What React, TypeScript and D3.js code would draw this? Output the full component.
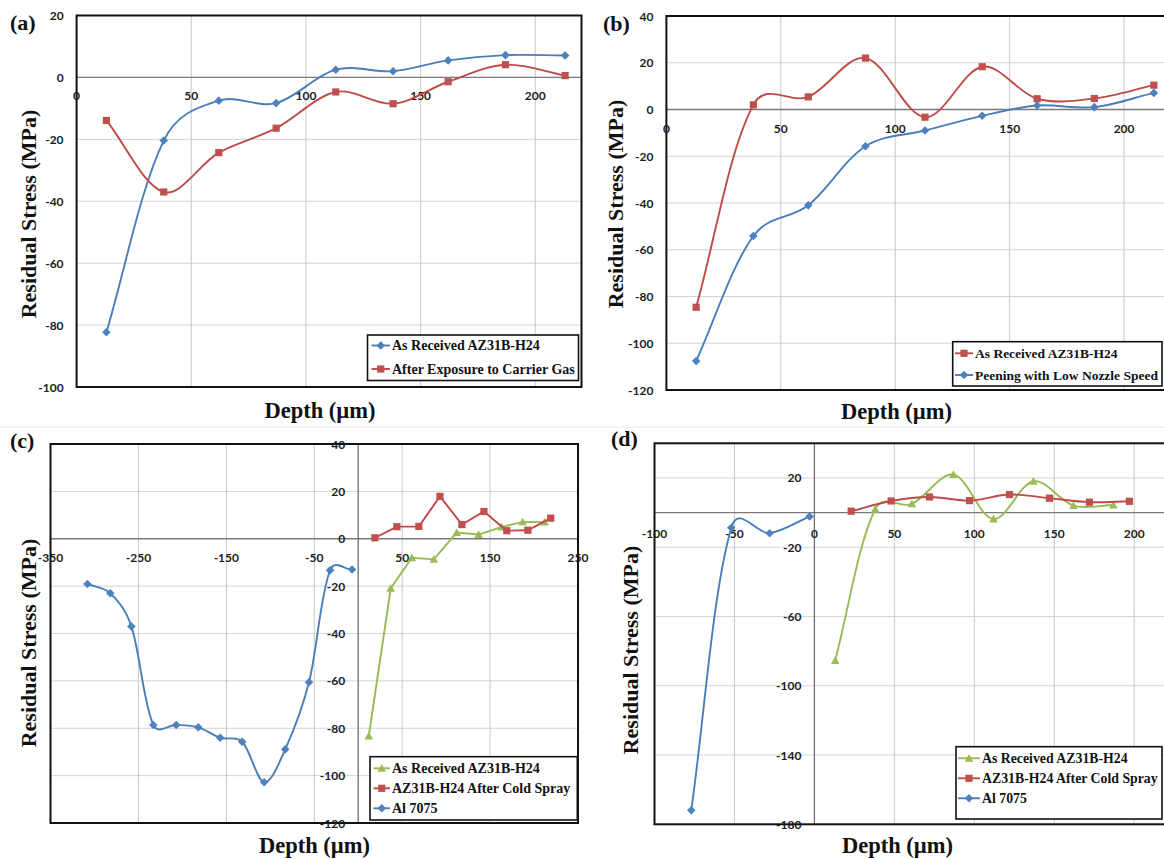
import React from 'react';
import * as d3 from 'd3';

// ---------- data ----------
// (a) As received vs. after exposure to carrier gas
const depthA = [13, 38, 62, 87, 113, 138, 162, 187, 213];
const aAsReceived = [-82.3, -20.4, -7.5, -8.3, 2.5, 2.0, 5.5, 7.2, 7.1];
const aCarrierGas = [-13.9, -37.0, -24.3, -16.4, -4.7, -8.5, -1.4, 4.1, 0.6];

// (b) As received vs. peening with low nozzle speed
const depthB = [13, 38, 62, 87, 113, 138, 162, 187, 213];
const bAsReceived = [-84.6, 2.0, 5.4, 22.0, -3.3, 18.3, 4.6, 4.7, 10.4];
const bPeening = [-107.6, -54.1, -41.0, -15.7, -9.0, -2.7, 1.7, 1.0, 7.1];

// (c) Cold spray with Al 7075 coating (coating depth negative)
const depthCAl = [-308, -282, -258, -233, -207, -182, -157, -132, -107, -83, -56, -32, -7];
const cAl7075 = [-19.1, -23.0, -37.0, -78.6, -78.6, -79.6, -84.0, -85.7, -102.8, -88.9, -60.6, -13.3, -13.0];
const depthCReceived = [12, 37, 61, 86, 112, 137, 163, 187, 212];
const cAsReceived = [-83.3, -20.9, -8.0, -8.7, 2.6, 1.8, 4.9, 7.1, 7.0];
const depthCSpray = [19, 44, 69, 93, 118, 143, 169, 193, 219];
const cAfterSpray = [0.4, 5.1, 5.2, 17.9, 6.0, 11.5, 3.4, 3.6, 8.7];

// (d) Cold spray, second condition
const depthDAl = [-77, -52, -28, -3];
const dAl7075 = [-171.9, -8.8, -11.9, -2.3];
const depthDReceived = [13, 38, 61, 87, 112, 137, 162, 187];
const dAsReceived = [-85.4, 1.9, 5.0, 21.9, -3.8, 18.1, 4.0, 4.4];
const depthDSpray = [23, 48, 72, 97, 122, 147, 172, 197];
const dAfterSpray = [0.8, 6.7, 9.0, 6.9, 10.4, 8.3, 6.0, 6.5];

// axis ticks
const ticksAx = [0, 50, 100, 150, 200];
const ticksAy = [20, 0, -20, -40, -60, -80, -100];
const ticksBx = [0, 50, 100, 150, 200];
const ticksBy = [40, 20, 0, -20, -40, -60, -80, -100, -120];
const ticksCx = [-350, -250, -150, -50, 50, 150, 250];
const ticksCy = [40, 20, 0, -20, -40, -60, -80, -100, -120];
const ticksDx = [-100, -50, 0, 50, 100, 150, 200];
const ticksDy = [20, -20, -60, -100, -140, -180];

// ---------- styling ----------
const BLUE = '#4A7EBB';
const BLUE_M = '#4F81BD';
const RED = '#BE4B48';
const RED_M = '#C0504D';
const GREEN = '#98B954';
const GREEN_M = '#9BBB59';
const SERIF = '"Liberation Serif", "Times New Roman", serif';
const TICKFONT = 'Lato, "Open Sans", "Liberation Sans", sans-serif';

// Spreadsheet-style smoothed line: cubic Bézier segments whose tangents
// follow the neighbouring points, weighted by (square-rooted) chord lengths
// so short segments next to long ones do not balloon.
class SmoothCurve {
  _context: any;
  _pts: [number, number][] = [];
  _line = NaN;
  constructor(context: any) {
    this._context = context;
  }
  areaStart() {
    this._line = 0;
  }
  areaEnd() {
    this._line = NaN;
  }
  lineStart() {
    this._pts = [];
  }
  point(x: number, y: number) {
    this._pts.push([+x, +y]);
  }
  lineEnd() {
    const p = this._pts;
    const c = this._context;
    const n = p.length;
    if (!n) return;
    c.moveTo(p[0][0], p[0][1]);
    if (n === 1) return;
    const dist = (a: [number, number], b: [number, number]) => Math.hypot(b[0] - a[0], b[1] - a[1]);
    const w = (a: number, b: number) => {
      const s = Math.sqrt(a) + Math.sqrt(b);
      return s > 0 ? Math.sqrt(b) / s : 0;
    };
    for (let i = 0; i < n - 1; i++) {
      const p0 = p[i - 1] || p[i];
      const p1 = p[i];
      const p2 = p[i + 1];
      const p3 = p[i + 2] || p[i + 1];
      const d01 = dist(p0, p1);
      const d12 = dist(p1, p2);
      const d23 = dist(p2, p3);
      const f1 = (i === 0 ? 1 : 2 * w(d01, d12)) / 6;
      const f2 = (i === n - 2 ? 1 : 2 * w(d23, d12)) / 6;
      const t1x = i === 0 ? (p2[0] - p1[0]) * 2 : p2[0] - p0[0];
      const t1y = i === 0 ? (p2[1] - p1[1]) * 2 : p2[1] - p0[1];
      const t2x = i === n - 2 ? (p2[0] - p1[0]) * 2 : p3[0] - p1[0];
      const t2y = i === n - 2 ? (p2[1] - p1[1]) * 2 : p3[1] - p1[1];
      c.bezierCurveTo(p1[0] + t1x * f1, p1[1] + t1y * f1, p2[0] - t2x * f2, p2[1] - t2y * f2, p2[0], p2[1]);
    }
  }
}
const curveSmooth = (context: any) => new SmoothCurve(context);

type Marker = 'diamond' | 'square' | 'triangle';
type Series = {
  name: string;
  xs: number[];
  ys: number[];
  color: string;
  markColor: string;
  marker: Marker;
  smooth: boolean;
};

function markerShape(kind: Marker, cx: number, cy: number, color: string, key?: any) {
  if (kind === 'square') {
    return <rect key={key} x={cx - 3.6} y={cy - 3.6} width={7.2} height={7.2} fill={color} />;
  }
  if (kind === 'diamond') {
    const s = 4.3;
    return (
      <path key={key} d={`M${cx},${cy - s}L${cx + s},${cy}L${cx},${cy + s}L${cx - s},${cy}Z`} fill={color} />
    );
  }
  const s = 4.3;
  return (
    <path key={key} d={`M${cx},${cy - s}L${cx + s},${cy + s * 0.8}L${cx - s},${cy + s * 0.8}Z`} fill={color} />
  );
}

type PanelCfg = {
  id: string;
  tag: string;
  frame: { left: number; top: number; right: number; bottom: number };
  xDomain: [number, number];
  xRange: [number, number];
  yDomain: [number, number];
  yRange: [number, number];
  xTicks: number[];
  yTicks: number[];
  yAxisAtZero: boolean;
  xLabelGap: number;
  tagPos: [number, number];
  yTitlePos: [number, number];
  xTitlePos: [number, number];
  legend: {
    x: number;
    y: number;
    w: number;
    h: number;
    rows: number[];
    sample: [number, number];
    textX: number;
    fontSize: number;
  };
  series: Series[];
};

function Panel({ cfg }: { cfg: PanelCfg }) {
  const x = d3.scaleLinear().domain(cfg.xDomain).range(cfg.xRange);
  const y = d3.scaleLinear().domain(cfg.yDomain).range(cfg.yRange);
  const f = cfg.frame;
  const clipId = `clip-${cfg.id}`;
  const zeroY = y(0);
  const zeroX = x(0);

  const lineFor = (s: Series) => {
    const gen = d3
      .line<number>()
      .x((_, i) => x(s.xs[i]))
      .y((v) => y(v))
      .curve(s.smooth ? (curveSmooth as any) : d3.curveLinear);
    return gen(s.ys) || '';
  };

  return (
    <g>
      <defs>
        <clipPath id={clipId}>
          <rect x={f.left} y={f.top} width={f.right - f.left} height={f.bottom - f.top} />
        </clipPath>
      </defs>
      {/* gridlines */}
      <g clipPath={`url(#${clipId})`}>
        {cfg.yTicks
          .filter((t) => t !== 0)
          .map((t) => (
            <line key={`gy${t}`} x1={f.left} x2={f.right} y1={y(t)} y2={y(t)} stroke="#d4d4d4" strokeWidth={1} />
          ))}
        {cfg.xTicks
          .filter((t) => t !== 0)
          .map((t) => (
            <line key={`gx${t}`} x1={x(t)} x2={x(t)} y1={f.top} y2={f.bottom} stroke="#c8c8c8" strokeWidth={1} />
          ))}
        <line x1={f.left} x2={f.right} y1={zeroY} y2={zeroY} stroke="#7a7a7a" strokeWidth={1.3} />
        {cfg.yAxisAtZero && (
          <line x1={zeroX} x2={zeroX} y1={f.top} y2={f.bottom} stroke="#6f6f6f" strokeWidth={1.3} />
        )}
      </g>

      {/* frame */}
      <rect
        x={f.left}
        y={f.top}
        width={f.right - f.left}
        height={f.bottom - f.top}
        fill="none"
        stroke="#111"
        strokeWidth={2}
      />

      {/* tick labels */}
      <g fontFamily={TICKFONT} fontWeight={700} fontSize={12} fill="#1c1c1c">
        {cfg.yTicks.map((t) => (
          <text
            key={`ly${t}`}
            x={(cfg.yAxisAtZero ? zeroX : f.left) - 13}
            y={y(t)}
            textAnchor="end"
            dominantBaseline="central"
          >
            {t}
          </text>
        ))}
        {cfg.xTicks.map((t) => (
          <text key={`lx${t}`} x={x(t)} y={zeroY + cfg.xLabelGap} textAnchor="middle" dominantBaseline="central">
            {t}
          </text>
        ))}
      </g>

      {/* series */}
      <g clipPath={`url(#${clipId})`}>
        {cfg.series.map((s) => (
          <g key={s.name}>
            <path d={lineFor(s)} fill="none" stroke={s.color} strokeWidth={1.9} />
            {s.ys.map((v, i) => markerShape(s.marker, x(s.xs[i]), y(v), s.markColor, i))}
          </g>
        ))}
      </g>

      {/* legend */}
      <g>
        <rect
          x={cfg.legend.x}
          y={cfg.legend.y}
          width={cfg.legend.w}
          height={cfg.legend.h}
          fill="#fff"
          stroke="#111"
          strokeWidth={1.6}
        />
        {cfg.series.map((s, i) => {
          const ry = cfg.legend.rows[i];
          const [sx1, sx2] = cfg.legend.sample;
          return (
            <g key={`lg${s.name}`}>
              <line x1={sx1} x2={sx2} y1={ry} y2={ry} stroke={s.color} strokeWidth={1.9} />
              {markerShape(s.marker, (sx1 + sx2) / 2, ry, s.markColor)}
              <text
                x={cfg.legend.textX}
                y={ry}
                dominantBaseline="central"
                fontFamily={SERIF}
                fontWeight={700}
                fontSize={cfg.legend.fontSize}
                fill="#111"
              >
                {s.name}
              </text>
            </g>
          );
        })}
      </g>

      {/* titles */}
      <text
        x={cfg.tagPos[0]}
        y={cfg.tagPos[1]}
        dominantBaseline="central"
        fontFamily={SERIF}
        fontWeight={700}
        fontSize={22}
        fill="#111"
      >
        {cfg.tag}
      </text>
      <text
        transform={`translate(${cfg.yTitlePos[0]},${cfg.yTitlePos[1]}) rotate(-90)`}
        textAnchor="middle"
        dominantBaseline="central"
        fontFamily={SERIF}
        fontWeight={700}
        fontSize={22}
        fill="#111"
      >
        Residual Stress (MPa)
      </text>
      <text
        x={cfg.xTitlePos[0]}
        y={cfg.xTitlePos[1]}
        textAnchor="middle"
        dominantBaseline="central"
        fontFamily={SERIF}
        fontWeight={700}
        fontSize={22.5}
        fill="#111"
      >
        Depth (µm)
      </text>
    </g>
  );
}

const panels: PanelCfg[] = [
  {
    id: 'a',
    tag: '(a)',
    frame: { left: 76.6, top: 15.5, right: 581.5, bottom: 387 },
    xDomain: [0, 200],
    xRange: [76.6, 535.3],
    yDomain: [-100, 20],
    yRange: [387, 15.5],
    xTicks: ticksAx,
    yTicks: ticksAy,
    yAxisAtZero: false,
    xLabelGap: 18.5,
    tagPos: [10, 22],
    yTitlePos: [28, 214],
    xTitlePos: [320, 410],
    legend: { x: 367.5, y: 335, w: 211, h: 45.5, rows: [345.5, 369], sample: [371.5, 390], textX: 392, fontSize: 14 },
    series: [
      { name: 'As Received AZ31B-H24', xs: depthA, ys: aAsReceived, color: BLUE, markColor: BLUE_M, marker: 'diamond', smooth: true },
      { name: 'After Exposure to Carrier Gas', xs: depthA, ys: aCarrierGas, color: RED, markColor: RED_M, marker: 'square', smooth: true },
    ],
  },
  {
    id: 'b',
    tag: '(b)',
    frame: { left: 666.4, top: 16, right: 1172, bottom: 390 },
    xDomain: [0, 200],
    xRange: [666.4, 1124.1],
    yDomain: [-120, 40],
    yRange: [390, 16],
    xTicks: ticksBx,
    yTicks: ticksBy,
    yAxisAtZero: false,
    xLabelGap: 18.5,
    tagPos: [603, 23],
    yTitlePos: [615.5, 204],
    xTitlePos: [896.5, 411.5],
    legend: {
      x: 952.7,
      y: 341.7,
      w: 209.3,
      h: 44.3,
      rows: [353.3, 375],
      sample: [955, 973],
      textX: 975,
      fontSize: 13.5,
    },
    series: [
      { name: 'As Received AZ31B-H24', xs: depthB, ys: bAsReceived, color: RED, markColor: RED_M, marker: 'square', smooth: true },
      { name: 'Peening with Low Nozzle Speed', xs: depthB, ys: bPeening, color: BLUE, markColor: BLUE_M, marker: 'diamond', smooth: true },
    ],
  },
  {
    id: 'c',
    tag: '(c)',
    frame: { left: 50.5, top: 444, right: 578, bottom: 823 },
    xDomain: [-350, 250],
    xRange: [50.5, 578],
    yDomain: [-120, 40],
    yRange: [823, 444],
    xTicks: ticksCx,
    yTicks: ticksCy,
    yAxisAtZero: true,
    xLabelGap: 18.5,
    tagPos: [10, 440],
    yTitlePos: [28, 643],
    xTitlePos: [314.5, 845],
    legend: {
      x: 370,
      y: 756.7,
      w: 207.3,
      h: 63.3,
      rows: [768.3, 788.3, 808.3],
      sample: [373.5, 390],
      textX: 392,
      fontSize: 14,
    },
    series: [
      { name: 'As Received AZ31B-H24', xs: depthCReceived, ys: cAsReceived, color: GREEN, markColor: GREEN_M, marker: 'triangle', smooth: false },
      { name: 'AZ31B-H24 After Cold Spray', xs: depthCSpray, ys: cAfterSpray, color: RED, markColor: RED_M, marker: 'square', smooth: false },
      { name: 'Al 7075', xs: depthCAl, ys: cAl7075, color: BLUE, markColor: BLUE_M, marker: 'diamond', smooth: true },
    ],
  },
  {
    id: 'd',
    tag: '(d)',
    frame: { left: 654.5, top: 443.3, right: 1172, bottom: 824.3 },
    xDomain: [-100, 200],
    xRange: [654.5, 1134.2],
    yDomain: [-180, 40],
    yRange: [824.3, 443.3],
    xTicks: ticksDx,
    yTicks: ticksDy,
    yAxisAtZero: true,
    xLabelGap: 21,
    tagPos: [611, 438],
    yTitlePos: [630.5, 650],
    xTitlePos: [897.5, 845],
    legend: {
      x: 956,
      y: 746.7,
      w: 206,
      h: 72.3,
      rows: [758.3, 778.3, 798.3],
      sample: [958, 980],
      textX: 982,
      fontSize: 13.8,
    },
    series: [
      { name: 'As Received AZ31B-H24', xs: depthDReceived, ys: dAsReceived, color: GREEN, markColor: GREEN_M, marker: 'triangle', smooth: true },
      { name: 'AZ31B-H24 After Cold Spray', xs: depthDSpray, ys: dAfterSpray, color: RED, markColor: RED_M, marker: 'square', smooth: true },
      { name: 'Al 7075', xs: depthDAl, ys: dAl7075, color: BLUE, markColor: BLUE_M, marker: 'diamond', smooth: true },
    ],
  },
];

export default function App() {
  return (
    <svg
      width={1164}
      height={859}
      viewBox="0 0 1164 859"
      style={{ position: 'absolute', left: 0, top: 0, background: '#fff' }}
    >
      <rect x={0} y={0} width={1164} height={859} fill="#fff" />
      <line x1={0} x2={1164} y1={427} y2={427} stroke="#e8e8e8" strokeWidth={1} />
      {panels.map((p) => (
        <Panel key={p.id} cfg={p} />
      ))}
    </svg>
  );
}
